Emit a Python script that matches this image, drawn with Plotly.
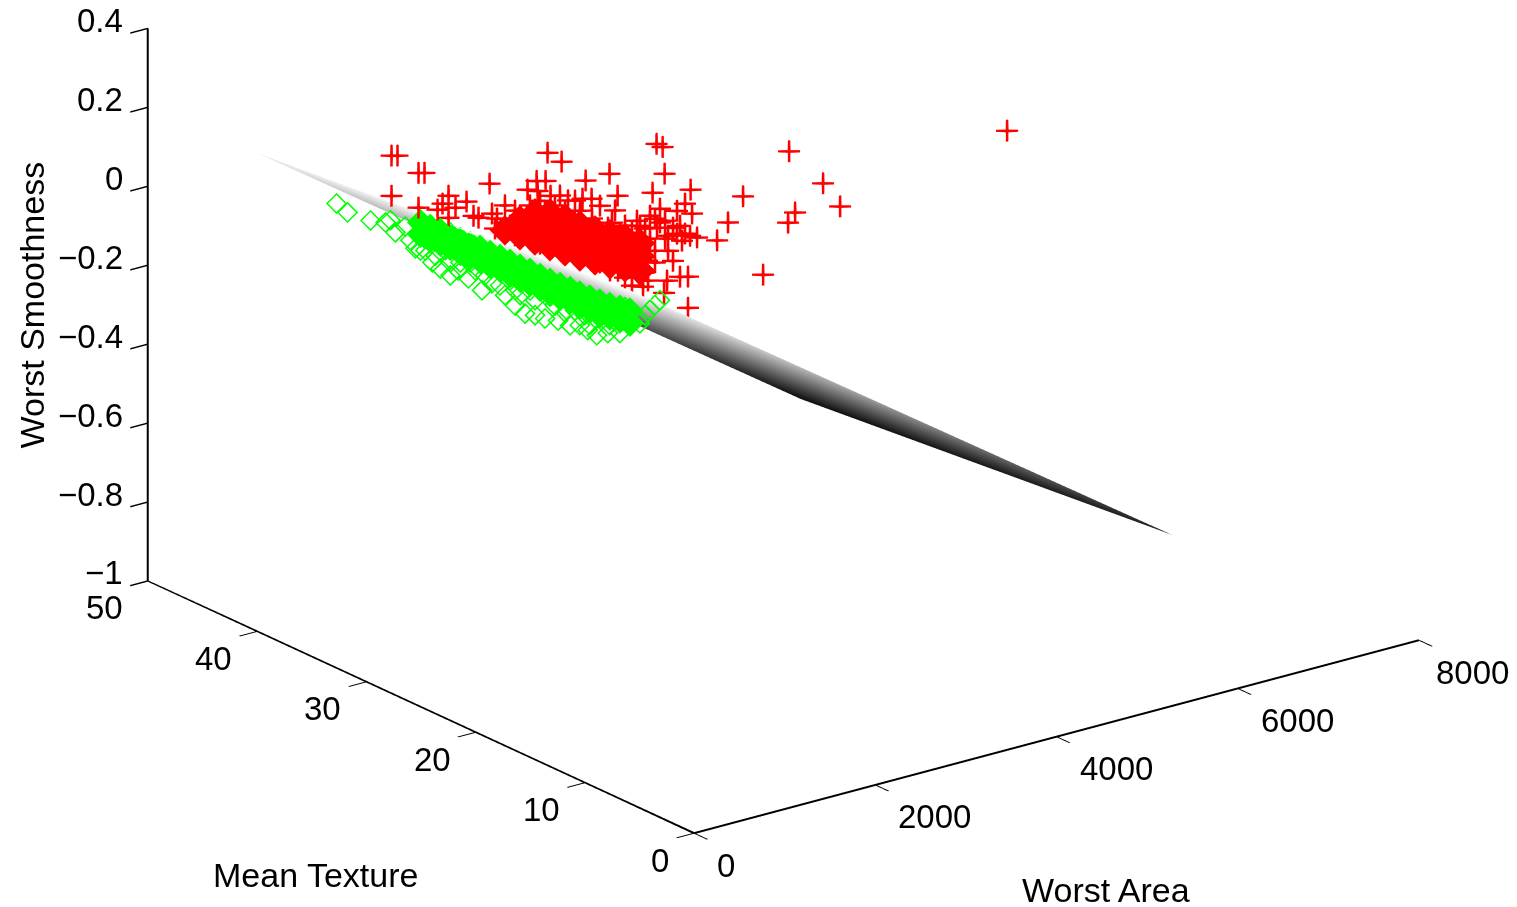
import plotly.graph_objects as go

red_area = [274,340,572,638,274,572,903,837,1102,980,782,903,1234,1179,
 1996,2151,2416,2680,3199,3266,3288,3155,3575,2769,2482,2382,1974,1875,1775,1886,2029,1356,
 177,232,1535,2440,2340,2076,1844,2175,2340,2252,2109,1645,1844,1678,1888,2274,2219,2307,2385,2219,2031,2307,1777,1457,1998,2175,1844,
 2179,2058,5259,2853,3228,3416,2345,2919,2842,2566,
 375,431,486,541,596,596,651,707,707,707,762,817,872,872,927,927,983,1016,1038,1093,1093,1148,1170,1203,1259,1281,1314,1369,1369,1424,1479,1479,1535,1590,1590,1645,1700,1722,1755,1811,1866,1921,1976,2087,2087,905,795,486,1060,1259,1402,1568,1203,651,762,1645,1501,
 1921,2031,2120,1811,1976,2120,2252,2363,1811,1976,1899,1722,320,431,210,927,1093,1369,1645]
red_texture = [30]*14 + [30]*18 + [20]*27 + [15]*10 + [20]*56 + [20]*19
red_smooth = [.318,.314,.256,.252,.216,.168,.178,.162,.151,.143,.150,.122,.102,.110,
 .220,.188,.124,.125,.169,.157,.088,.048,.030,.064,.074,.080,.150,.156,.140,.130,.109,.181,
 .305,.289,.230,.106,-.066,-.012,.018,.063,.013,.018,.017,.053,.053,.074,.081,.108,.129,.124,.170,.187,.204,.200,.189,.191,.158,.147,.127,
 .224,.186,.268,.363,.259,.189,.280,.204,.183,.068,
 .262,.234,.281,.252,.300,.223,.271,.305,.242,.196,.277,.210,.283,.244,.178,.221,.258,.287,.197,.150,.226,.253,.176,.204,.132,.225,.159,.184,.108,.140,.157,.081,.115,.170,.094,.134,.105,.162,.076,.124,.164,.135,.182,.125,.170,.197,.249,.243,.175,.183,.124,.075,.153,.228,.231,.185,.201,
 .193,.169,.130,.174,.101,.092,.147,.115,.081,.071,.030,.028,.317,.297,.265,.305,.282,.252,.218]

# dense core of the malignant cloud, where the crosses merge into a solid mass
red_core_area = [320,486,486,486,651,651,651,817,817,817,983,983,983,1148,1148,1148,1314,1314,1314,1479,1479,1479,1645,1645,1645,1811,1811,1811]
red_core_texture = [20]*28
red_core_smooth = [.253,.268,.248,.230,.276,.243,.207,.266,.223,.182,.243,.200,.159,.215,.177,.136,.192,.154,.116,.172,.134,.096,.152,.116,.078,.129,.096,.060]

green_area = [272,393,647,813,
 263,318,428,484,539,594,649,704,704,760,815,815,870,870,925,925,980,1035,1091,1146,1201,
 310,343,399,454,509,509,619,619,675,730,785,785,840,895,951,1006,1006,1116,1116,1171,1227,1282,1282,1337,
 424,479,534,590,612,645,700,755,810,866,921,921,976,1087,1142,1197,1252,1308,
 594,726,1013,1124,421,564,675,895,1149,424,512,733]
green_texture = [35]*4 + [30]*21 + [22]*24 + [14]*18 + [30]*4 + [22]*5 + [14]*3
green_smooth = [.132,.102,.066,.051,
 .154,.120,.128,.090,.066,.095,.054,.096,.076,.034,.069,-.002,.071,.041,.007,-.026,.039,.000,.014,-.007,-.030,
 .076,.112,.134,.138,.109,.076,.113,.082,.054,.038,.085,-.012,.043,.015,.054,.021,-.038,.026,-.012,.010,-.036,-.004,-.072,-.038,
 .139,.105,.076,.124,.046,.087,.104,.063,.092,.036,.098,.065,.049,.047,.064,.074,.083,.092,
 .057,.019,-.019,-.046,.087,.048,.015,-.023,-.052,.083,.065,.044]

# dense core of the benign cloud, where the diamonds merge into a solid mass
green_core_area = [594,594,704,704,815,815,925,925,1035,1035,1146,1146,
 288,288,399,399,509,509,619,619,730,730,840,840,951,951,1061,1061,1171,1171,1282,1282,
 424,424,534,534,645,645,755,755,866,866,976,976]
green_core_texture = [30]*12 + [22]*20 + [14]*12
green_core_smooth = [.128,.098,.109,.078,.092,.062,.075,.045,.056,.025,.039,.008,
 .184,.153,.164,.134,.147,.117,.128,.097,.109,.078,.092,.061,.072,.042,.053,.022,.036,.005,.019,-.011,
 .162,.131,.145,.114,.128,.097,.113,.083,.099,.069,.085,.054]

plane_area = [906, 6906]
plane_texture = [13.5, 47.5]
plane_smooth = [[.149, -.839], [.0606, -.929]]

area_range = [0, 8000]
texture_range = [0, 50]
smooth_range = [-1, .4]
area_ticks = [0, 2000, 4000, 6000, 8000]
texture_ticks = [0, 10, 20, 30, 40, 50]
smooth_ticks = [-1, -.8, -.6, -.4, -.2, 0, .2, .4]
smooth_labels = ["\u22121", "\u22120.8", "\u22120.6", "\u22120.4", "\u22120.2", "0", "0.2", "0.4"]

FONT = "Liberation Sans"
FS = 33
def axis(rng, ticks):
    return dict(title=dict(text=""), range=rng, tickvals=ticks, showticklabels=False,
                showgrid=False, zeroline=False, showbackground=False,
                showspikes=False, showline=True, linecolor="black", linewidth=3,
                ticks="outside", ticklen=22, tickwidth=3, tickcolor="black")

def note(x, y, z, text, xanchor, xshift, yshift, angle=0, size=FS):
    return dict(x=x, y=y, z=z, text=text, showarrow=False, xanchor=xanchor, yanchor="middle",
                xshift=xshift, yshift=yshift, textangle=angle,
                font=dict(family=FONT, size=size, color="black"))

notes = [note(0, 50, v, t, "right", -23, 8) for v, t in zip(smooth_ticks, smooth_labels)]
notes += [note(0, v, -1, str(v), "right", -23, -27) for v in texture_ticks]
notes += [note(v, 0, -1, str(v), "left", 15 if v == 8000 else 21, -32) for v in area_ticks]
notes += [note(4000, 0, -1, "Worst Area", "center", 49, -153, size=34),
          note(0, 25, -1, "Mean Texture", "center", -105, -168, size=34),
          note(0, 50, -.3, "Worst Smoothness", "center", -116, 0, -90, size=34)]

fig = go.Figure()
fig.add_trace(go.Surface(x=plane_area, y=plane_texture, z=plane_smooth, showscale=False,
                         colorscale=[[0, "#080808"], [1, "#ffffff"]], cmin=-.95, cmax=.149,
                         lighting=dict(ambient=1, diffuse=0, specular=0, roughness=1, fresnel=0),
                         contours=dict(x=dict(highlight=False), y=dict(highlight=False), z=dict(highlight=False)),
                         hoverinfo="skip"))
line = dict(color="black", width=4)
for xs, ys, zs in [(area_range, [0, 0], [-1, -1]), ([0, 0], texture_range, [-1, -1]), ([0, 0], [50, 50], smooth_range)]:
    fig.add_trace(go.Scatter3d(x=xs, y=ys, z=zs, mode="lines", line=line, hoverinfo="skip"))
fig.add_trace(go.Scatter3d(x=red_core_area, y=red_core_texture, z=red_core_smooth, mode="markers", name="Malignant core",
                           marker=dict(symbol="diamond", size=10, color="#ff0000")))
fig.add_trace(go.Scatter3d(x=red_area, y=red_texture, z=red_smooth, mode="markers", name="Malignant",
                           marker=dict(symbol="cross", size=12, color="#ff0000")))
fig.add_trace(go.Scatter3d(x=green_core_area, y=green_core_texture, z=green_core_smooth, mode="markers", name="Benign core",
                           marker=dict(symbol="diamond", size=9, color="#00ff00")))
fig.add_trace(go.Scatter3d(x=green_area, y=green_texture, z=green_smooth, mode="markers", name="Benign",
                           marker=dict(symbol="diamond-open", size=7, color="#00ff00")))
R = 2.0
c = dict(x=-.0890, y=-.0557, z=-.2627)
fig.update_layout(width=1517, height=907, margin=dict(l=0, r=0, t=0, b=0), showlegend=False,
    paper_bgcolor="white",
    scene=dict(domain=dict(x=[0, 1], y=[0, 1]),
        xaxis=axis(area_range, area_ticks),
        yaxis=axis(texture_range, texture_ticks),
        zaxis=axis(smooth_range, smooth_ticks),
        annotations=notes,
        aspectmode="manual", aspectratio=dict(x=2.007, y=1.992, z=1.301),
        camera=dict(projection=dict(type="orthographic"), center=c, up=dict(x=0, y=0, z=1),
                    eye=dict(x=c["x"]-.5665*R, y=c["y"]-.746*R, z=c["z"]+.3506*R))))
fig.write_html("out.html")
